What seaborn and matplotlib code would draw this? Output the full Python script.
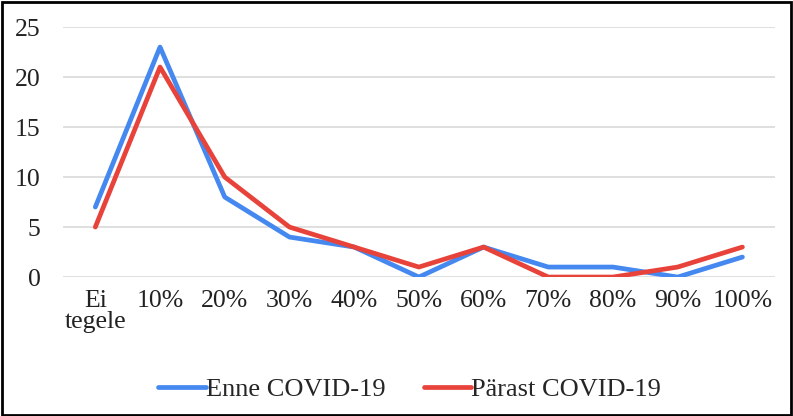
import pandas as pd
import seaborn as sns
import matplotlib.pyplot as plt
from matplotlib.patches import Rectangle

categories = ["Ei\ntegele", "10%", "20%", "30%", "40%", "50%", "60%", "70%", "80%", "90%", "100%"]
enne = [7, 23, 8, 4, 3, 0, 3, 1, 1, 0, 2]
parast = [5, 21, 10, 5, 3, 1, 3, 0, 0, 1, 3]

df = pd.DataFrame({
    "kat": categories * 2,
    "vaartus": enne + parast,
    "seeria": ["Enne COVID-19"] * len(enne) + ["Pärast COVID-19"] * len(parast),
})

sns.set_style("white")
plt.rcParams["font.family"] = ["Liberation Serif", "DejaVu Serif"]

fig = plt.figure(figsize=(7.93, 4.16), dpi=100)
ax = fig.add_axes([0.0794, 0.334, 0.8976, 0.601])

sns.lineplot(data=df, x="kat", y="vaartus", hue="seeria", sort=False,
             palette=["#4488F0", "#E8433A"], linewidth=3.4, ax=ax)

ax.set_xlim(-0.5, len(categories) - 0.5)
ax.set_ylim(0, 25)
ax.set_yticks(range(0, 26, 5))
ax.grid(axis="y", color="#D9D9D9", linewidth=1.2)
ax.set_axisbelow(True)
for s in ax.spines.values():
    s.set_visible(False)
ax.tick_params(axis="both", length=0, labelsize=18.5, colors="#222222")
ax.tick_params(axis="y", pad=16)
ax.tick_params(axis="x", pad=9)
for lab in ax.get_xticklabels():
    lab.set_linespacing(0.95)
ax.set_xlabel("")
ax.set_ylabel("")

ax.legend(loc="center", bbox_to_anchor=(0.487, -0.448), ncol=2, frameon=False,
          fontsize=19, handlelength=1.8, handletextpad=0.0, columnspacing=1.45)

fig.patches.append(Rectangle((0.002, 0.003), 0.995, 0.993, transform=fig.transFigure,
                             fill=False, edgecolor="black", linewidth=2))

fig.savefig("out.png", dpi=100)
